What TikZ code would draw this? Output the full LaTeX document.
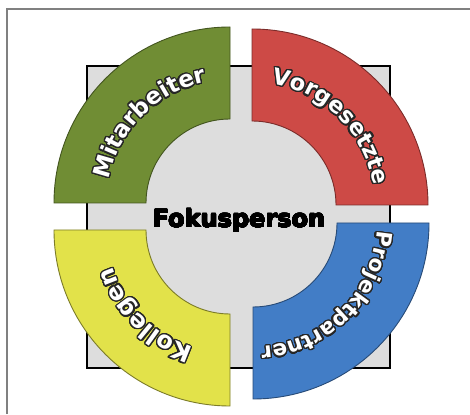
\documentclass[tikz,border=0pt]{standalone}
\usepackage{fontspec}
\setmainfont{DejaVu Sans}
\usepackage{contour}
\usetikzlibrary{decorations.text}
\contourlength{1.25pt}
\contournumber{28}
\newcommand\outl[1]{\contour{black!85}{#1}}
\definecolor{cgreen}{RGB}{112,141,52}
\definecolor{cred}{RGB}{205,74,70}
\definecolor{cblue}{RGB}{66,125,198}
\definecolor{cyellow}{RGB}{226,226,74}
\definecolor{cgray}{RGB}{221,221,221}
\definecolor{cframe}{RGB}{128,128,128}
\tikzset{
  sector/.style={line width=0.9pt},
  curvelabel/.style 2 args={decorate, decoration={text effects along path, text={#1}, text align=center,
     text effects/.cd, text along path, character command=\outl,
     characters={text=white, font=\fontsize{#2}{#2}\selectfont\bfseries, inner sep=0pt, anchor=base}}}
}
\begin{document}
\begin{tikzpicture}[x=1pt,y=1pt]
\useasboundingbox (0,0) rectangle (470,414);
\fill[white] (0,0) rectangle (470,414);
% frame
\draw[cframe, line width=2pt] (6.5,0) -- (6.5,404.5) -- (470,404.5);
% centre square
\draw[fill=cgray, line width=1.2pt] (87,46) rectangle (390,348);
% sectors
\coordinate (G) at (230,211);
\coordinate (R) at (252,209);
\coordinate (B) at (253,191);
\coordinate (Y) at (230,184);
\draw[sector, fill=cgreen, draw=cgreen!60!black, shift={(G)}]
  (180:84) -- (180:176) arc[start angle=180, end angle=90, radius=176] -- (90:84) arc[start angle=90, end angle=180, radius=84] -- cycle;
\draw[sector, fill=cred, draw=cred!60!black, shift={(R)}]
  (90:84) -- (90:176) arc[start angle=90, end angle=0, radius=176] -- (0:84) arc[start angle=0, end angle=90, radius=84] -- cycle;
\draw[sector, fill=cblue, draw=cblue!60!black, shift={(B)}]
  (0:84) -- (0:176) arc[start angle=0, end angle=-90, radius=176] -- (-90:84) arc[start angle=-90, end angle=0, radius=84] -- cycle;
\draw[sector, fill=cyellow, draw=cyellow!55!black, shift={(Y)}]
  (270:84) -- (270:176) arc[start angle=270, end angle=180, radius=176] -- (180:84) arc[start angle=180, end angle=270, radius=84] -- cycle;
% curved labels
\path[curvelabel={Mitarbeiter}{23}, shift={(G)}] (186:123) arc[start angle=186, end angle=84, radius=123];
\path[curvelabel={Vorgesetzte}{22.5}, shift={(R)}] (96:123) arc[start angle=96, end angle=-6, radius=123];
\path[curvelabel={Projektpartner}{21.5}, shift={(B)}] (6:124) arc[start angle=6, end angle=-96, radius=124];
\path[curvelabel={Kollegen}{24}, shift={(Y)}] (276:123) arc[start angle=276, end angle=174, radius=123];
% centre text
\node (fokus) at (239,193) {\contourlength{0.45pt}\contour{black}{\fontsize{24}{24}\selectfont\bfseries Fokusperson}};
\end{tikzpicture}
\end{document}
